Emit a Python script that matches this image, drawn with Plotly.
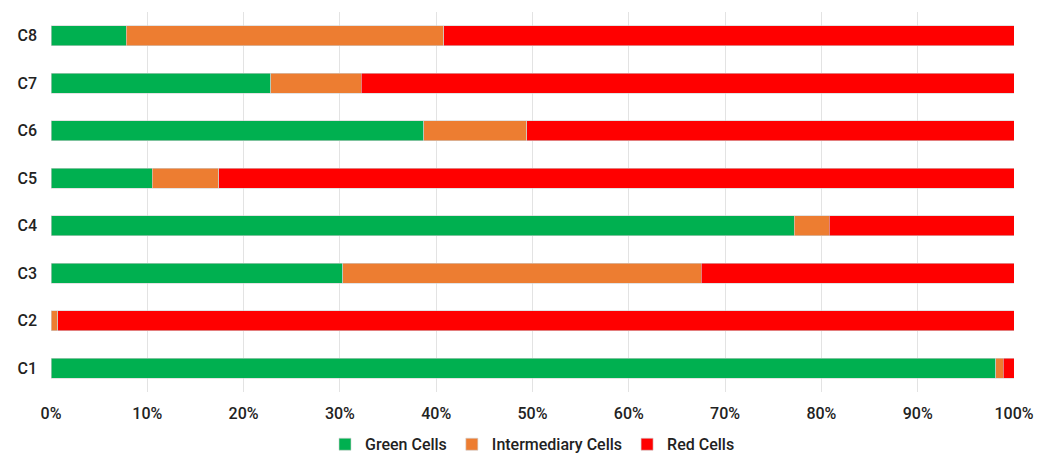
import plotly.graph_objects as go

categories = ["C1", "C2", "C3", "C4", "C5", "C6", "C7", "C8"]
green_cells = [98.1, 0.0, 30.3, 77.2, 10.5, 38.7, 22.8, 7.8]
intermediary_cells = [0.8, 0.7, 37.2, 3.6, 6.9, 10.7, 9.4, 33.0]
red_cells = [round(100 - g - i, 1) for g, i in zip(green_cells, intermediary_cells)]

series = [
    ("Green Cells", green_cells, "#00B050"),
    ("Intermediary Cells", intermediary_cells, "#ED7D31"),
    ("Red Cells", red_cells, "#FF0000"),
]

fig = go.Figure()
for name, values, color in series:
    fig.add_trace(go.Bar(
        y=categories, x=values, name=name, orientation="h",
        marker=dict(color=color, line=dict(color="#d0d0d0", width=0.6)),
    ))

fig.update_layout(
    barmode="stack",
    bargap=0.57,
    width=1048, height=453,
    margin=dict(l=51, r=34, t=12, b=61, autoexpand=False),
    paper_bgcolor="white", plot_bgcolor="white",
    font=dict(family="Roboto, Open Sans, sans-serif", size=16, color="#222222", weight=500),
    xaxis=dict(
        range=[0, 100], tickvals=list(range(0, 101, 10)),
        ticktext=[f"{v}%" for v in range(0, 101, 10)],
        showgrid=True, gridcolor="#e3e3e3", gridwidth=1,
        zeroline=False, showline=False, ticks="", ticklabelstandoff=10,
        automargin=False,
    ),
    yaxis=dict(
        categoryorder="array", categoryarray=categories,
        showgrid=False, zeroline=False, showline=False, ticks="",
        ticklabelstandoff=13, automargin=False,
    ),
    legend=dict(
        orientation="h", x=0.5, xanchor="center",
        y=-0.093, yanchor="top",
        font=dict(size=16), traceorder="normal", itemwidth=30,
    ),
)

fig.write_html("out.html")
